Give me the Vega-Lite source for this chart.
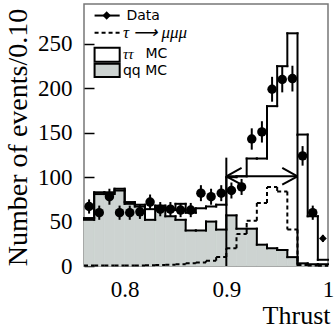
{
  "$schema": "https://vega.github.io/schema/vega-lite/v6.json",
  "width": 244,
  "height": 262,
  "autosize": {"type": "none"},
  "padding": {"left": 84, "top": 4, "right": 6, "bottom": 63},
  "background": "white",
  "config": {
    "view": {"stroke": "#777777", "strokeWidth": 1.5},
    "axis": {"domain": false, "grid": false, "labelFont": "Liberation Serif", "titleFont": "Liberation Serif", "labelColor": "black", "titleColor": "black", "titleFontWeight": "normal", "tickColor": "black", "labelFontSize": 23, "titleFontSize": 26, "labelFlush": false},
    "axisX": {"ticks": false, "labelPadding": 12, "titleAnchor": "end", "titleAlign": "right", "titleX": 246, "titleY": 57, "titleBaseline": "alphabetic"},
    "axisY": {"tickSize": -10, "tickWidth": 1.5, "labelPadding": 22, "titleFontSize": 28, "titleAngle": -90, "titleX": -58, "titleY": 133, "titleAlign": "center", "titleBaseline": "alphabetic"}
  },
  "datasets": {
    "bins": [
      {"lo": 0.76, "hi": 0.77, "c": 0.765, "total": 54, "qq": 52, "sig": 0.5, "n": 67, "elo": 59, "ehi": 75},
      {"lo": 0.77, "hi": 0.78, "c": 0.775, "total": 83, "qq": 81, "sig": 0.5, "n": 60, "elo": 52, "ehi": 68},
      {"lo": 0.78, "hi": 0.79, "c": 0.785, "total": 83, "qq": 81, "sig": 0.5, "n": 78, "elo": 69, "ehi": 87},
      {"lo": 0.79, "hi": 0.80, "c": 0.795, "total": 87, "qq": 85, "sig": 0.5, "n": 60, "elo": 52, "ehi": 68},
      {"lo": 0.80, "hi": 0.81, "c": 0.805, "total": 72, "qq": 70, "sig": 0.5, "n": 60, "elo": 52, "ehi": 68},
      {"lo": 0.81, "hi": 0.82, "c": 0.815, "total": 69, "qq": 67, "sig": 0.5, "n": 61, "elo": 53, "ehi": 69},
      {"lo": 0.82, "hi": 0.83, "c": 0.825, "total": 64, "qq": 52, "sig": 0.8, "n": 72, "elo": 63.5, "ehi": 80.5},
      {"lo": 0.83, "hi": 0.84, "c": 0.835, "total": 68, "qq": 66, "sig": 1, "n": 64, "elo": 56, "ehi": 72},
      {"lo": 0.84, "hi": 0.85, "c": 0.845, "total": 63, "qq": 56, "sig": 1.5, "n": 64, "elo": 56, "ehi": 72},
      {"lo": 0.85, "hi": 0.86, "c": 0.855, "total": 70, "qq": 52, "sig": 2, "n": 63, "elo": 55, "ehi": 71},
      {"lo": 0.86, "hi": 0.87, "c": 0.865, "total": 60, "qq": 40, "sig": 3, "n": 63, "elo": 55, "ehi": 71},
      {"lo": 0.87, "hi": 0.88, "c": 0.875, "total": 65, "qq": 40, "sig": 4, "n": 82, "elo": 73, "ehi": 91},
      {"lo": 0.88, "hi": 0.89, "c": 0.885, "total": 67, "qq": 50, "sig": 6, "n": 78, "elo": 69, "ehi": 87},
      {"lo": 0.89, "hi": 0.90, "c": 0.895, "total": 69, "qq": 41, "sig": 10, "n": 82, "elo": 73, "ehi": 91},
      {"lo": 0.90, "hi": 0.91, "c": 0.905, "total": 100, "qq": 57, "sig": 20, "n": 85, "elo": 76, "ehi": 94},
      {"lo": 0.91, "hi": 0.92, "c": 0.915, "total": 101, "qq": 42, "sig": 36, "n": 89, "elo": 80, "ehi": 98},
      {"lo": 0.92, "hi": 0.93, "c": 0.925, "total": 121, "qq": 42, "sig": 51, "n": 143, "elo": 131, "ehi": 155},
      {"lo": 0.93, "hi": 0.94, "c": 0.935, "total": 121, "qq": 24, "sig": 71, "n": 151, "elo": 139, "ehi": 163},
      {"lo": 0.94, "hi": 0.95, "c": 0.945, "total": 180, "qq": 20, "sig": 89, "n": 199, "elo": 185, "ehi": 213},
      {"lo": 0.95, "hi": 0.96, "c": 0.955, "total": 225, "qq": 18, "sig": 84, "n": 210, "elo": 195.5, "ehi": 224.5},
      {"lo": 0.96, "hi": 0.97, "c": 0.965, "total": 262, "qq": 10, "sig": 41, "n": 211, "elo": 196.5, "ehi": 225.5},
      {"lo": 0.97, "hi": 0.98, "c": 0.975, "total": 148, "qq": 3, "sig": 1, "n": 124, "elo": 113, "ehi": 135},
      {"lo": 0.98, "hi": 0.99, "c": 0.985, "total": 56, "qq": 2, "sig": 0.5, "n": 60, "elo": 52, "ehi": 68},
      {"lo": 0.99, "hi": 1.0, "c": 0.995, "total": 7, "qq": 2, "sig": 0.3, "n": 31, "elo": 27, "ehi": 35}
    ],
    "segs": [
      {"x": 0.9, "x2": 0.9, "y": 0, "y2": 122},
      {"x": 0.97, "x2": 0.97, "y": 0, "y2": 148},
      {"x": 0.9, "x2": 0.97, "y": 101, "y2": 101},
      {"x": 0.9, "x2": 0.915, "y": 101, "y2": 110.5},
      {"x": 0.9, "x2": 0.915, "y": 101, "y2": 91.5},
      {"x": 0.97, "x2": 0.955, "y": 101, "y2": 110.5},
      {"x": 0.97, "x2": 0.955, "y": 101, "y2": 91.5}
    ]
  },
  "layer": [
    {
      "data": {"name": "bins"},
      "mark": {"type": "rect", "fill": "#cdd3d1", "stroke": "#cdd3d1", "strokeWidth": 0.6},
      "encoding": {
        "x": {"field": "lo", "type": "quantitative", "scale": {"domain": [0.76, 1.0], "nice": false, "zero": false},
          "axis": {"values": [0.8, 0.9, 1], "format": "~g", "title": "Thrust"}},
        "x2": {"field": "hi"},
        "y": {"field": "qq", "type": "quantitative", "scale": {"domain": [0, 295], "nice": false},
          "axis": {"values": [0, 50, 100, 150, 200, 250], "title": "Number of events/0.10"}},
        "y2": {"datum": 0}
      }
    },
    {
      "data": {"name": "bins"},
      "mark": {"type": "rule", "color": "black", "strokeWidth": 2, "strokeDash": [4, 3]},
      "encoding": {
        "x": {"field": "lo", "type": "quantitative"},
        "x2": {"field": "hi"},
        "y": {"field": "sig", "type": "quantitative"}
      }
    },
    {
      "data": {"name": "bins"},
      "transform": [{"window": [{"op": "lag", "field": "sig", "as": "ps"}], "sort": [{"field": "lo"}]}],
      "mark": {"type": "rule", "color": "black", "strokeWidth": 2, "strokeDash": [4, 3]},
      "encoding": {
        "x": {"field": "lo", "type": "quantitative"},
        "y": {"field": "ps", "type": "quantitative"},
        "y2": {"field": "sig"}
      }
    },
    {
      "data": {"name": "bins"},
      "mark": {"type": "rule", "color": "black", "strokeWidth": 2, "strokeCap": "square"},
      "encoding": {
        "x": {"field": "lo", "type": "quantitative"},
        "x2": {"field": "hi"},
        "y": {"field": "qq", "type": "quantitative"}
      }
    },
    {
      "data": {"name": "bins"},
      "transform": [{"window": [{"op": "lag", "field": "qq", "as": "pq"}], "sort": [{"field": "lo"}]}],
      "mark": {"type": "rule", "color": "black", "strokeWidth": 2, "strokeCap": "square"},
      "encoding": {
        "x": {"field": "lo", "type": "quantitative"},
        "y": {"field": "pq", "type": "quantitative"},
        "y2": {"field": "qq"}
      }
    },
    {
      "data": {"name": "bins"},
      "mark": {"type": "rule", "color": "black", "strokeWidth": 2, "strokeCap": "square"},
      "encoding": {
        "x": {"field": "lo", "type": "quantitative"},
        "x2": {"field": "hi"},
        "y": {"field": "total", "type": "quantitative"}
      }
    },
    {
      "data": {"name": "bins"},
      "transform": [{"window": [{"op": "lag", "field": "total", "as": "pt"}], "sort": [{"field": "lo"}]}],
      "mark": {"type": "rule", "color": "black", "strokeWidth": 2, "strokeCap": "square"},
      "encoding": {
        "x": {"field": "lo", "type": "quantitative"},
        "y": {"field": "pt", "type": "quantitative"},
        "y2": {"field": "total"}
      }
    },
    {
      "data": {"name": "segs"},
      "mark": {"type": "rule", "color": "black", "strokeWidth": 2},
      "encoding": {
        "x": {"field": "x", "type": "quantitative"},
        "x2": {"field": "x2"},
        "y": {"field": "y", "type": "quantitative"},
        "y2": {"field": "y2"}
      }
    },
    {
      "data": {"name": "bins"},
      "mark": {"type": "rule", "color": "black", "strokeWidth": 2},
      "encoding": {
        "x": {"field": "c", "type": "quantitative"},
        "y": {"field": "elo", "type": "quantitative"},
        "y2": {"field": "ehi"}
      }
    },
    {
      "data": {"name": "bins"},
      "transform": [{"filter": "datum.c < 0.99"}],
      "mark": {"type": "point", "shape": "circle", "filled": true, "color": "black", "opacity": 1, "size": 90},
      "encoding": {
        "x": {"field": "c", "type": "quantitative"},
        "y": {"field": "n", "type": "quantitative"}
      }
    },
    {
      "data": {"name": "bins"},
      "transform": [{"filter": "datum.c > 0.99"}],
      "mark": {"type": "point", "shape": "diamond", "filled": true, "color": "black", "opacity": 1, "size": 60},
      "encoding": {
        "x": {"field": "c", "type": "quantitative"},
        "y": {"field": "n", "type": "quantitative"}
      }
    },
    {
      "data": {"values": [{"x": 0.7704, "x2": 0.7951, "y": 230, "y2": 245.8}]},
      "mark": {"type": "rect", "fill": "white", "stroke": "black", "strokeWidth": 2},
      "encoding": {
        "x": {"field": "x", "type": "quantitative"},
        "x2": {"field": "x2"},
        "y": {"field": "y", "type": "quantitative"},
        "y2": {"field": "y2"}
      }
    },
    {
      "data": {"values": [{"x": 0.7704, "x2": 0.7951, "y": 212.8, "y2": 227.8}]},
      "mark": {"type": "rect", "fill": "#cdd3d1", "stroke": "black", "strokeWidth": 2},
      "encoding": {
        "x": {"field": "x", "type": "quantitative"},
        "x2": {"field": "x2"},
        "y": {"field": "y", "type": "quantitative"},
        "y2": {"field": "y2"}
      }
    },
    {
      "data": {"values": [{"x": 0.7704, "x2": 0.7951, "y": 282}]},
      "mark": {"type": "rule", "color": "black", "strokeWidth": 2},
      "encoding": {
        "x": {"field": "x", "type": "quantitative"},
        "x2": {"field": "x2"},
        "y": {"field": "y", "type": "quantitative"}
      }
    },
    {
      "data": {"values": [{"x": 0.7704, "x2": 0.7951, "y": 262.5}]},
      "mark": {"type": "rule", "color": "black", "strokeWidth": 2, "strokeDash": [4, 3]},
      "encoding": {
        "x": {"field": "x", "type": "quantitative"},
        "x2": {"field": "x2"},
        "y": {"field": "y", "type": "quantitative"}
      }
    },
    {
      "data": {"values": [{"x": 0.7823, "y": 282}]},
      "mark": {"type": "point", "shape": "diamond", "filled": true, "color": "black", "opacity": 1, "size": 70},
      "encoding": {
        "x": {"field": "x", "type": "quantitative"},
        "y": {"field": "y", "type": "quantitative"}
      }
    },
    {
      "data": {"values": [{"x": 0.8017, "y": 281.5, "t": "Data"}, {"x": 0.8205, "y": 238.5, "t": "MC"}, {"x": 0.7983, "y": 220, "t": "qq MC"}]},
      "mark": {"type": "text", "font": "DejaVu Sans", "fontSize": 14, "align": "left", "baseline": "middle", "color": "black"},
      "encoding": {
        "x": {"field": "x", "type": "quantitative"},
        "y": {"field": "y", "type": "quantitative"},
        "text": {"field": "t"}
      }
    },
    {
      "data": {"values": [{"x": 0.7983, "y": 262, "t": "τ ⟶ μμμ"}]},
      "mark": {"type": "text", "font": "Liberation Serif", "fontStyle": "italic", "fontSize": 17, "align": "left", "baseline": "middle", "color": "black"},
      "encoding": {
        "x": {"field": "x", "type": "quantitative"},
        "y": {"field": "y", "type": "quantitative"},
        "text": {"field": "t"}
      }
    },
    {
      "data": {"values": [{"x": 0.7983, "y": 239, "t": "ττ"}]},
      "mark": {"type": "text", "font": "Liberation Serif", "fontStyle": "italic", "fontSize": 15, "align": "left", "baseline": "middle", "color": "black"},
      "encoding": {
        "x": {"field": "x", "type": "quantitative"},
        "y": {"field": "y", "type": "quantitative"},
        "text": {"field": "t"}
      }
    }
  ]
}
